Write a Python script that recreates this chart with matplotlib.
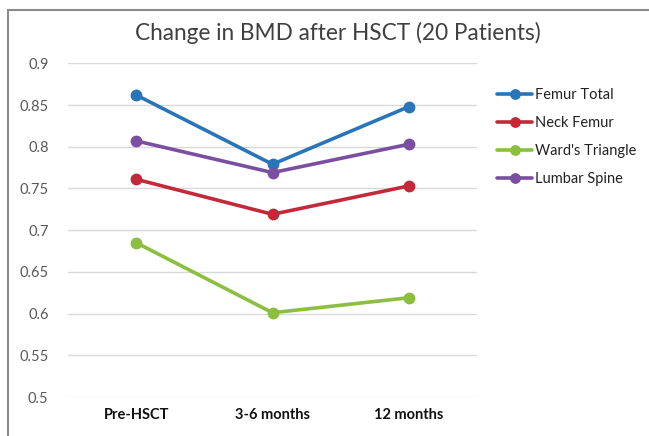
import matplotlib
matplotlib.use("Agg")
import matplotlib.pyplot as plt
from matplotlib.patches import Rectangle

categories = ["Pre-HSCT", "3-6 months", "12 months"]
series_names = ["Femur Total", "Neck Femur", "Ward's Triangle", "Lumbar Spine"]
femur_total = [0.862, 0.779, 0.848]
neck_femur = [0.761, 0.719, 0.753]
wards_triangle = [0.685, 0.601, 0.619]
lumbar_spine = [0.807, 0.769, 0.803]
yticks = [0.5, 0.55, 0.6, 0.65, 0.7, 0.75, 0.8, 0.85, 0.9]
ytick_labels = ["0.5", "0.55", "0.6", "0.65", "0.7", "0.75", "0.8", "0.85", "0.9"]
colors = ["#2A74B8", "#C22A3A", "#8CBF3F", "#7A4FA0"]

plt.rcParams['font.family'] = ['Lato', 'DejaVu Sans']

W, H = 649, 436
fig = plt.figure(figsize=(W / 100, H / 100), dpi=100)
fig.patch.set_facecolor("white")

# outer border
fig.patches.append(Rectangle((8 / W, -0.05), 1.1, 1 - 10 / H + 0.05,
                             transform=fig.transFigure, fill=False,
                             edgecolor="#8a8a8a", linewidth=1.5))

ax = fig.add_axes([68 / W, 1 - 397 / H, (477 - 68) / W, (397 - 63.3) / H])
x = range(len(categories))
for name, vals, c in zip(series_names,
                         [femur_total, neck_femur, wards_triangle, lumbar_spine],
                         colors):
    ax.plot(x, vals, color=c, linewidth=2.6, marker="o", markersize=7.5,
            label=name, solid_capstyle="round", zorder=3)

ax.set_xlim(-0.5, 2.5)
ax.set_ylim(0.5, 0.9)
ax.set_yticks(yticks)
ax.set_yticklabels(ytick_labels, color="#595959", fontsize=10.5)
ax.set_xticks(list(x))
ax.set_xticklabels(categories, fontweight="bold", fontsize=10.5, color="#111111")
ax.grid(axis="y", color="#d9d9d9", linewidth=1)
ax.set_axisbelow(True)
for s in ax.spines.values():
    s.set_visible(False)
ax.tick_params(axis="both", length=0)
ax.tick_params(axis="y", pad=14)
ax.tick_params(axis="x", pad=8)

fig.text(338 / W, 1 - 33 / H, "Change in BMD after HSCT (20 Patients)",
         ha="center", va="center", fontsize=16.3, color="#404040")

leg = ax.legend(loc="upper left", bbox_to_anchor=(484 / W, 1 - 75 / H),
                bbox_transform=fig.transFigure, frameon=False,
                fontsize=10.5, handlelength=2.4, handletextpad=0.2,
                labelspacing=0.95, markerscale=0.9)
for t in leg.get_texts():
    t.set_color("#222222")

fig.savefig("out.png", dpi=100, facecolor="white")
